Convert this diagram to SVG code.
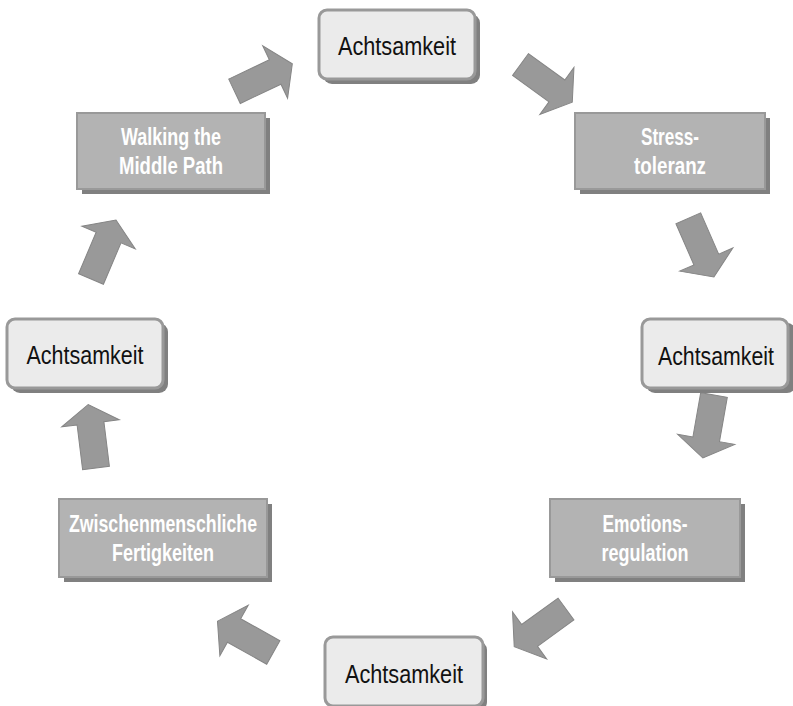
<svg xmlns="http://www.w3.org/2000/svg" width="793" height="706" viewBox="0 0 793 706">
<style>
.sh{fill:#808080}
.lb{fill:#ebebeb;stroke:#999;stroke-width:3}
.db{fill:#b3b3b3;stroke:#999;stroke-width:2}
.t1{font-family:"Liberation Sans Narrow","Liberation Sans",sans-serif;font-size:26px;fill:#111;text-anchor:middle}
.t2{font-family:"Liberation Sans Narrow","Liberation Sans",sans-serif;font-size:23px;font-weight:bold;fill:#fff;text-anchor:middle}
.ar{fill:#999;stroke:#858585;stroke-width:1}
</style>
<defs>
<polygon id="arr" points="0,-13.5 45,-13.5 45,-29 64,0 45,29 45,13.5 0,13.5"/>
</defs>
<rect width="793" height="706" fill="#fff"/>
<g id="connectors">
<use href="#arr" class="ar" transform="translate(234.5,91.3) rotate(-25.4)"/>
<use href="#arr" class="ar" transform="translate(520.5,64.5) rotate(36)"/>
<use href="#arr" class="ar" transform="translate(688.3,218.3) rotate(66.4)"/>
<use href="#arr" class="ar" transform="translate(714,395) rotate(100)"/>
<use href="#arr" class="ar" transform="translate(566,609) rotate(144)"/>
<use href="#arr" class="ar" transform="translate(273.3,652.5) rotate(209.3)"/>
<use href="#arr" class="ar" transform="translate(96,468) rotate(-97)"/>
<use href="#arr" class="ar" transform="translate(91,279) rotate(-67)"/>
</g>
<g id="n1">
<rect class="sh" x="323" y="14" width="157" height="70" rx="9"/>
<rect class="lb" x="319" y="10" width="156" height="69" rx="8"/>
<text class="t1" x="397" y="55" textLength="118" lengthAdjust="spacingAndGlyphs">Achtsamkeit</text>
</g>
<g id="n2">
<rect class="sh" x="580" y="118" width="190" height="76"/>
<rect class="db" x="575" y="113" width="190" height="76"/>
<text class="t2" x="670" y="145" textLength="58" lengthAdjust="spacingAndGlyphs">Stress-</text>
<text class="t2" x="670" y="174" textLength="72" lengthAdjust="spacingAndGlyphs">toleranz</text>
</g>
<g id="n3">
<rect class="sh" x="646" y="323" width="150" height="70" rx="9"/>
<rect class="lb" x="642" y="319" width="146" height="69" rx="8"/>
<text class="t1" x="716" y="365" style="font-size:25px" textLength="116" lengthAdjust="spacingAndGlyphs">Achtsamkeit</text>
</g>
<g id="n4">
<rect class="sh" x="555" y="504" width="190" height="78"/>
<rect class="db" x="550" y="499" width="190" height="78"/>
<text class="t2" x="645" y="532" textLength="85" lengthAdjust="spacingAndGlyphs">Emotions-</text>
<text class="t2" x="645" y="561" textLength="87" lengthAdjust="spacingAndGlyphs">regulation</text>
</g>
<g id="n5">
<rect class="sh" x="329" y="641" width="158" height="70" rx="9"/>
<rect class="lb" x="325" y="637" width="158" height="69" rx="8"/>
<text class="t1" x="404" y="683" textLength="118" lengthAdjust="spacingAndGlyphs">Achtsamkeit</text>
</g>
<g id="n6">
<rect class="sh" x="64" y="504" width="208" height="78"/>
<rect class="db" x="59" y="499" width="208" height="78"/>
<text class="t2" x="163" y="532" textLength="188" lengthAdjust="spacingAndGlyphs">Zwischenmenschliche</text>
<text class="t2" x="163" y="561" textLength="102" lengthAdjust="spacingAndGlyphs">Fertigkeiten</text>
</g>
<g id="n7">
<rect class="sh" x="11" y="323" width="157" height="70" rx="9"/>
<rect class="lb" x="7" y="319" width="156" height="69" rx="8"/>
<text class="t1" x="85" y="364" textLength="117" lengthAdjust="spacingAndGlyphs">Achtsamkeit</text>
</g>
<g id="n8">
<rect class="sh" x="82" y="118" width="188" height="76"/>
<rect class="db" x="77" y="113" width="188" height="76"/>
<text class="t2" x="171" y="145" textLength="100" lengthAdjust="spacingAndGlyphs">Walking the</text>
<text class="t2" x="171" y="174" textLength="104" lengthAdjust="spacingAndGlyphs">Middle Path</text>
</g>
</svg>
